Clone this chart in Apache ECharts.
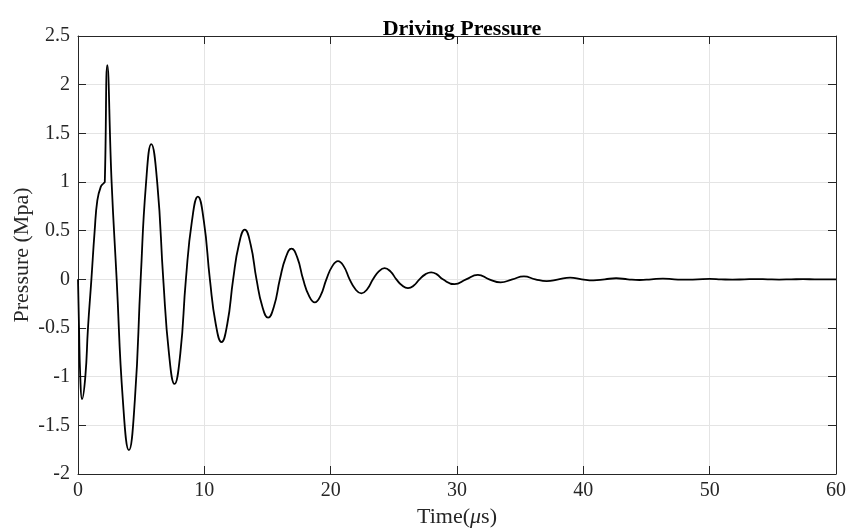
<!DOCTYPE html>
<html>
<head>
<meta charset="utf-8">
<script src="https://cdn.jsdelivr.net/npm/echarts@6/dist/echarts.min.js"></script>
<style>
html,body{margin:0;padding:0;background:#fff;}
#c{width:848px;height:528px;}
</style>
</head>
<body>
<div id="c"></div>
<script>
// Time in microseconds
const timeUs = [
  0, 0.08, 0.18, 0.32, 0.58, 0.79, 1.06, 1.32, 1.53, 1.8, 2.05, 2.12, 2.32, 2.66, 3.06,
  3.55, 4.03, 4.5, 4.96, 5.38, 5.8, 6.28, 6.75, 7.2, 7.64, 8.1, 8.54, 9.02, 9.49, 9.96, 10.44,
  10.9, 11.36, 11.82, 12.28, 12.74, 13.2, 13.66, 14.13, 14.59, 15.05, 15.51, 15.98,
  16.44, 16.9, 17.36, 17.82, 18.28, 18.74, 19.2, 19.66, 20.12, 20.58, 21.04, 21.5,
  21.96, 22.43, 22.89, 23.35, 23.81, 24.27, 24.73, 25.2, 25.66, 26.12, 26.58, 27.03,
  27.49, 27.95, 28.41, 28.88, 29.8, 30.72, 31.65, 32.55, 33.45, 34.38, 35.3, 36.2,
  37.1, 38.03, 38.95, 39.88, 40.8, 41.7, 42.6, 43.52, 44.45, 45.38, 46.3, 47.2, 48.1,
  49.05, 50.0, 50.9, 51.8, 52.75, 53.7, 54.6, 55.5, 56.45, 57.4, 58.3, 59.2, 60
];
// Pressure in MPa
const pressureMpa = [
  0, -0.49, -1.0, -1.23, -1.0, -0.5, 0, 0.5, 0.81, 0.95, 0.99, 1.0, 2.2, 1.0, 0,
  -1.24, -1.755, -1.24, 0, 0.98, 1.39, 0.98, 0, -0.76, -1.075, -0.76, 0, 0.6, 0.85, 0.6, 0,
  -0.456, -0.645, -0.456, 0, 0.36, 0.51, 0.36, 0, -0.28, -0.394, -0.28, 0,
  0.223, 0.315, 0.223, 0, -0.167, -0.236, -0.167, 0, 0.133, 0.188, 0.133, 0,
  -0.102, -0.144, -0.102, 0, 0.081, 0.115, 0.081, 0, -0.064, -0.09, -0.064, 0,
  0.051, 0.072, 0.051, 0, -0.05, 0, 0.046, 0, -0.031, 0, 0.03, 0,
  -0.018, 0, 0.018, 0, -0.011, 0, 0.011, 0, -0.007, 0, 0.007, 0, -0.004,
  0, 0.004, 0, -0.003, 0, 0.003, 0, -0.002, 0, 0.002, 0, -0.001, 0
];
const xTicks = [0, 10, 20, 30, 40, 50, 60];
const yTicks = [-2, -1.5, -1, -0.5, 0, 0.5, 1, 1.5, 2, 2.5];
const titleText = 'Driving Pressure';
const yName = 'Pressure (Mpa)';

const FONT = '"Liberation Serif", "Times New Roman", serif';
const AXIS_COLOR = '#262626';
const GRID_COLOR = '#e4e4e4';

const data = timeUs.map((t, i) => [t, pressureMpa[i]]);
const xStep = xTicks[1] - xTicks[0];
const yStep = yTicks[1] - yTicks[0];

const baseX = {
  type: 'value',
  min: xTicks[0], max: xTicks[xTicks.length - 1], interval: xStep,
  axisLine: {show: true, onZero: false, lineStyle: {color: AXIS_COLOR, width: 1}},
  axisTick: {show: true, inside: true, length: 8, lineStyle: {color: AXIS_COLOR}},
};
const baseY = {
  type: 'value',
  min: yTicks[0], max: yTicks[yTicks.length - 1], interval: yStep,
  axisLine: {show: true, onZero: false, lineStyle: {color: AXIS_COLOR, width: 1}},
  axisTick: {show: true, inside: true, length: 8, lineStyle: {color: AXIS_COLOR}},
};

const chart = echarts.init(document.getElementById('c'), null, {renderer: 'canvas'});
chart.setOption({
  backgroundColor: '#fff',
  animation: false,
  title: {
    text: titleText,
    left: 457, top: 13, textAlign: 'center',
    textStyle: {fontFamily: FONT, fontWeight: 'bold', fontSize: 22, color: '#000'}
  },
  grid: {left: 78, right: 12, top: 36, bottom: 54, containLabel: false, outerBoundsMode: 'none'},
  xAxis: [
    Object.assign({}, baseX, {
      position: 'bottom',
      name: '{a|Time(}{b|μ}{a|s)}',
      nameLocation: 'middle', nameGap: 32,
      nameMoveOverlap: false,
      nameTextStyle: {
        rich: {
          a: {fontFamily: FONT, fontSize: 22, color: '#262626'},
          b: {fontFamily: FONT, fontSize: 22, fontStyle: 'italic', color: '#262626'}
        }
      },
      axisLabel: {show: true, margin: 7, fontFamily: FONT, fontSize: 20, color: '#262626'},
      splitLine: {show: true, lineStyle: {color: GRID_COLOR, width: 1}}
    }),
    Object.assign({}, baseX, {
      position: 'top',
      axisLabel: {show: false},
      splitLine: {show: false}
    })
  ],
  yAxis: [
    Object.assign({}, baseY, {
      position: 'left',
      name: yName,
      nameLocation: 'middle', nameGap: 45,
      nameMoveOverlap: false,
      nameTextStyle: {fontFamily: FONT, fontSize: 22, color: '#262626'},
      axisLabel: {show: true, margin: 8, fontFamily: FONT, fontSize: 20, color: '#262626'},
      splitLine: {show: true, lineStyle: {color: GRID_COLOR, width: 1}}
    }),
    Object.assign({}, baseY, {
      position: 'right',
      axisLabel: {show: false},
      splitLine: {show: false}
    })
  ],
  series: [{
    type: 'line',
    data: data,
    xAxisIndex: 0, yAxisIndex: 0,
    smooth: 0.5,
    showSymbol: false,
    symbol: 'none',
    lineStyle: {color: '#000', width: 1.8},
    z: 5
  }]
});
</script>
</body>
</html>
